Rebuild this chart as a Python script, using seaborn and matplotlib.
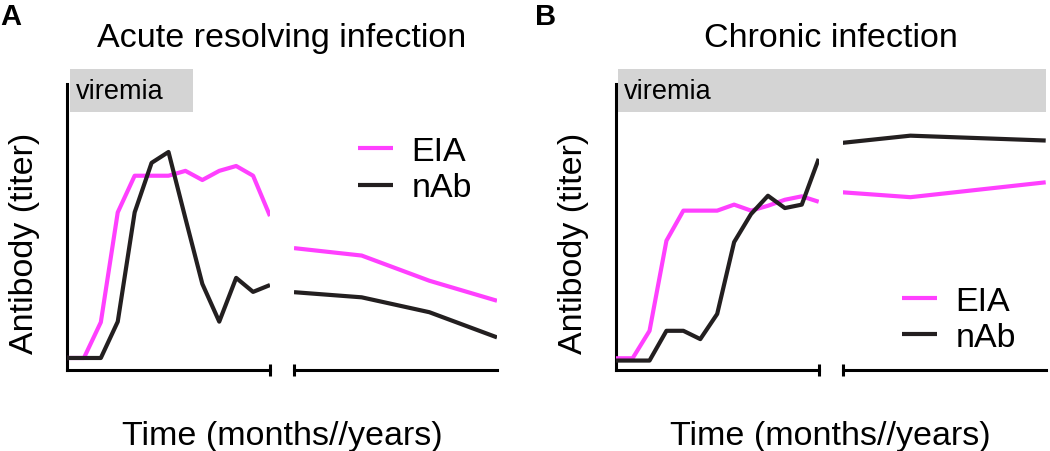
import matplotlib
matplotlib.use("Agg")
import matplotlib.pyplot as plt
from matplotlib.patches import Rectangle
from matplotlib.transforms import blended_transform_factory
import pandas as pd
import seaborn as sns

# --- data (arbitrary titer units, 0-100 = height of the y axis) ---
early_steps = list(range(13))
acute_late_steps = [0, 1, 2, 3]
chronic_late_steps = [0, 1, 3]

acute_eia_early = [4.2, 4.2, 16.7, 55.1, 67.9, 67.9, 67.9, 69.6, 66.4, 69.6, 71.3, 67.9, 53.8]
acute_nab_early = [4.2, 4.2, 4.2, 16.9, 55.1, 72.4, 76.2, 53.0, 30.1, 16.9, 32.2, 27.3, 29.7]
acute_eia_late = [42.6, 40.0, 31.2, 24.2]
acute_nab_late = [27.2, 25.4, 20.2, 11.4]

chronic_eia_early = [4.1, 4.1, 13.7, 45.2, 55.7, 55.7, 55.7, 57.8, 55.7, 57.4, 59.5, 60.7, 58.8]
chronic_nab_early = [3.3, 3.3, 3.3, 13.7, 13.7, 10.8, 19.6, 44.7, 54.5, 60.9, 56.6, 57.8, 73.8]
chronic_eia_late = [62.1, 60.4, 65.6]
chronic_nab_late = [79.4, 81.9, 80.2]

series_labels = ["EIA", "nAb"]
panel_titles = ["Acute resolving infection", "Chronic infection"]
panel_letters = ["A", "B"]
acute_viremia_end = 7.45      # in early-step units

# --- style ---
COLORS = {"EIA": "#ff40ff", "nAb": "#231f20"}
GREY = "#d4d4d4"
W, H = 1050, 452
Y_TOP = 105.2
LW = 3.0
SPINE_LW = 2.2
FS = 24.5

sns.set_theme(style="white")
plt.rcParams["font.family"] = ["Liberation Sans", "DejaVu Sans"]
plt.rcParams["text.color"] = "black"

fig = plt.figure(figsize=(W / 100, H / 100), dpi=100)


def add_ax(x0, x1):
    return fig.add_axes([x0 / W, 1 - 371 / H, (x1 - x0) / W, (371 - 70) / H])


def long_frame(steps, eia, nab):
    return pd.DataFrame({"step": list(steps) * 2, "titer": list(eia) + list(nab),
                         "assay": ["EIA"] * len(eia) + ["nAb"] * len(nab)})


def style_ax(ax, xmax, early):
    ax.set_xlim(0, xmax)
    ax.set_ylim(0, Y_TOP)
    ax.set_yticks([])
    ax.set_xlabel(""); ax.set_ylabel("")
    for s in ("top", "right"):
        ax.spines[s].set_visible(False)
    ax.spines["bottom"].set_linewidth(SPINE_LW)
    ax.spines["bottom"].set_color("black")
    if early:
        ax.spines["left"].set_linewidth(SPINE_LW)
        ax.spines["left"].set_color("black")
        ax.spines["left"].set_bounds(0, 100)
        ax.set_xticks([xmax])
    else:
        ax.spines["left"].set_visible(False)
        ax.set_xticks([0])
    ax.tick_params(axis="x", direction="inout", length=8, width=SPINE_LW,
                   color="black", labelbottom=False, bottom=True)
    ax.set_facecolor("none")


def draw_panel(x_left, letter_x, title, letter, early, late, late_steps, viremia_end, legend_at):
    ax_e = add_ax(x_left, x_left + 203)
    ax_l = add_ax(x_left + 227, x_left + 430)
    for ax, df in ((ax_e, long_frame(early_steps, *early)),
                   (ax_l, long_frame(late_steps, *late))):
        sns.lineplot(data=df, x="step", y="titer", hue="assay", palette=COLORS,
                     hue_order=series_labels, lw=LW, ax=ax, legend=False, zorder=3)
        for ln in ax.lines:
            ln.set_solid_capstyle("butt")
    style_ax(ax_e, early_steps[-1], True)
    style_ax(ax_l, 3, False)

    # viremia bar
    to_fig = fig.transFigure.inverted()
    fx0 = to_fig.transform(ax_e.transData.transform((0.15, 0)))[0]
    if viremia_end is None:
        fx1 = to_fig.transform(ax_l.transAxes.transform((1, 0)))[0]
    else:
        fx1 = to_fig.transform(ax_e.transData.transform((viremia_end, 0)))[0]
    tr = blended_transform_factory(fig.transFigure, ax_e.transData)
    fig.add_artist(Rectangle((fx0, 90.2), fx1 - fx0, Y_TOP - 90.2, transform=tr,
                             facecolor=GREY, edgecolor="none", zorder=0))
    ax_e.text(0.5, 97.4, "viremia", fontsize=19.5, va="center", ha="left", zorder=4)

    handles = [plt.Line2D([], [], color=COLORS[k], lw=LW, solid_capstyle="butt")
               for k in series_labels]
    ax_l.legend(handles, series_labels, loc="center left", bbox_to_anchor=legend_at,
                frameon=False, borderpad=0, borderaxespad=0, handlelength=1.03,
                handletextpad=0.55, labelspacing=0.17, fontsize=FS)

    cx = (x_left + 215) / W
    fig.text(cx, 1 - 47 / H, title, ha="center", va="baseline", fontsize=FS)
    fig.text(cx, 1 - 445 / H, "Time (months//years)", ha="center", va="baseline", fontsize=FS)
    fig.text((x_left - 42) / W, 1 - 243 / H, "Antibody (titer)", rotation=90,
             ha="center", va="center", fontsize=FS)
    fig.text(letter_x / W, 1 - 25 / H, letter, fontsize=21, weight="bold",
             va="baseline", ha="left")


draw_panel(67, 0, panel_titles[0], panel_letters[0],
           (acute_eia_early, acute_nab_early), (acute_eia_late, acute_nab_late),
           acute_late_steps, acute_viremia_end, (0.315, 0.666))
draw_panel(615.7, 535, panel_titles[1], panel_letters[1],
           (chronic_eia_early, chronic_nab_early), (chronic_eia_late, chronic_nab_late),
           chronic_late_steps, None, (0.29, 0.168))

fig.savefig("out.png", dpi=100, facecolor="white")
